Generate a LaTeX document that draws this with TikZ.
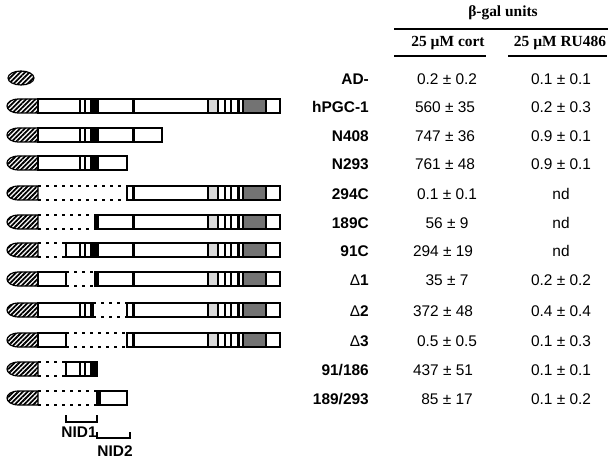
\documentclass[tikz,border=0pt]{standalone}
\usepackage{fontspec}
\setmainfont{Liberation Serif}
\newfontfamily\helv{Liberation Sans}
\usetikzlibrary{patterns.meta}

\begin{document}
\begin{tikzpicture}[x=1bp, y=-1bp,
    every node/.style={font=\helv\fontsize{15.5}{18}\selectfont, inner sep=0pt},
    cname/.style={font=\helv\bfseries\fontsize{15.5}{18}\selectfont, anchor=mid east},
    val/.style={anchor=mid},
    head/.style={font=\bfseries\fontsize{15.5}{18}\selectfont, anchor=mid},
    nid/.style={font=\helv\bfseries\fontsize{15.5}{18}\selectfont, anchor=mid},
    bar/.style={draw, line width=1.5bp, fill=white},
    blk/.style={fill=black},
    tick/.style={line width=1.3bp},
    gap/.style={line width=1.8bp, dash pattern=on 2.5bp off 5.5bp},
    rule/.style={line width=1.7bp},
    adcap/.style={draw, line width=1.2bp, pattern={Lines[angle=45, distance=3.3bp, line width=1.8bp]}},
    lgray/.style={draw, line width=1.3bp, fill=black!15},
    dgray/.style={draw, line width=1.3bp, fill=black!55}
]
\useasboundingbox (0,0) rectangle (612,466);

% Header
\node[head] (units) at (503, 14) {β-gal units};
\node[head] (cort) at (448, 44) {25 µM cort};
\node[head] (ru) at (560, 44) {25 µM RU486};
\draw[rule] (394, 29) -- (608, 29);
\draw[rule] (394, 56) -- (486, 56);
\draw[rule] (508, 56) -- (607, 56);

% Activation domain
\draw[adcap] (21, 78) ellipse [x radius=13bp, y radius=7bp];
\foreach \y in {106,135,163,193,222,250,279,310,340,369,398}
  \draw[adcap] (38,\y-7) -- (19,\y-7) .. controls (3,\y-7) and (3,\y+7) .. (19,\y+7) -- (38,\y+7) -- cycle;

% Deleted parts
\draw[gap] (38, 186) -- (127, 186) (38, 200) -- (127, 200);
\draw[gap] (38, 215) -- (95, 215) (38, 229) -- (95, 229);
\draw[gap] (38, 243) -- (66, 243) (38, 257) -- (66, 257);
\draw[gap] (66, 272) -- (95, 272) (66, 286) -- (95, 286);
\draw[gap] (93, 303) -- (127, 303) (93, 317) -- (127, 317);
\draw[gap] (66, 333) -- (127, 333) (66, 347) -- (127, 347);
\draw[gap] (38, 362) -- (66, 362) (38, 376) -- (66, 376);
\draw[gap] (38, 391) -- (97, 391) (38, 405) -- (97, 405);

% Bars
\draw[bar] (38, 99) rectangle (280, 113);
\draw[bar] (38, 128) rectangle (162, 142);
\draw[bar] (38, 156) rectangle (127, 170);
\draw[bar] (127, 186) rectangle (280, 200);
\draw[bar] (95, 215) rectangle (280, 229);
\draw[bar] (66, 243) rectangle (280, 257);
\draw[bar] (38, 272) rectangle (66, 286);
\draw[bar] (95, 272) rectangle (280, 286);
\draw[bar] (38, 303) rectangle (93, 317);
\draw[bar] (127, 303) rectangle (280, 317);
\draw[bar] (38, 333) rectangle (66, 347);
\draw[bar] (127, 333) rectangle (280, 347);
\draw[bar] (66, 362) rectangle (97, 376);
\draw[bar] (97, 391) rectangle (127, 405);

% N-terminal marks
\foreach \y in {106,135,163,250,310,369}
  \draw[tick] (80,\y-7) -- (80,\y+7) (85,\y-7) -- (85,\y+7);
\foreach \y in {106,135,163,250}
  \fill[blk] (90,\y-7) rectangle (99,\y+7);
\fill[blk] (90, 303) rectangle (93, 317);
\fill[blk] (90, 362) rectangle (97, 376);
\fill[blk] (95, 215) rectangle (99, 229);
\fill[blk] (95, 272) rectangle (99, 286);
\fill[blk] (97, 391) rectangle (101, 405);
\foreach \y in {106,135,193,222,250,279,310,340}
  \fill[blk] (132,\y-7) rectangle (135,\y+7);

% C-terminal marks
\foreach \y in {106,193,222,250,279,310,340} {
  \draw[lgray] (208,\y-7) rectangle (218,\y+7);
  \draw[tick] (225,\y-7) -- (225,\y+7) (231,\y-7) -- (231,\y+7);
  \fill[blk] (237,\y-7) rectangle (240,\y+7);
  \draw[dgray] (243,\y-7) rectangle (266,\y+7);
}

% NID brackets
\draw[rule] (66, 415) -- (66, 422) -- (97, 422) -- (97, 415);
\draw[rule] (97, 432) -- (97, 438) -- (130, 438) -- (130, 432);
\node[nid] (nid1) at (79, 435) {NID1};
\node[nid] (nid2) at (115, 454) {NID2};

% Names
\node[cname] (nAD) at (369, 82) {AD-};
\node[cname] (nFull) at (369, 110) {hPGC-1};
\node[cname] (nN408) at (369, 139) {N408};
\node[cname] (nN293) at (369, 167) {N293};
\node[cname] (n294C) at (369, 197) {294C};
\node[cname] (n189C) at (369, 226) {189C};
\node[cname] (n91C) at (369, 254) {91C};
\node[cname] (nD1) at (369, 283) {{\mdseries Δ}1};
\node[cname] (nD2) at (369, 314) {{\mdseries Δ}2};
\node[cname] (nD3) at (369, 344) {{\mdseries Δ}3};
\node[cname] (n91x) at (369, 373) {91/186};
\node[cname] (n189x) at (369, 402) {189/293};

% Cort column
\node[val] (cAD) at (447, 82) {0.2 ± 0.2};
\node[val] (cFull) at (445, 110) {560 ± 35};
\node[val] (cN408) at (445, 139) {747 ± 36};
\node[val] (cN293) at (445, 167) {761 ± 48};
\node[val] (c294C) at (447, 197) {0.1 ± 0.1};
\node[val] (c189C) at (447, 226) {56 ± 9};
\node[val] (c91C) at (443, 254) {294 ± 19};
\node[val] (cD1) at (447, 283) {35 ± 7};
\node[val] (cD2) at (443, 314) {372 ± 48};
\node[val] (cD3) at (447, 344) {0.5 ± 0.5};
\node[val] (c91x) at (443, 373) {437 ± 51};
\node[val] (c189x) at (447, 402) {85 ± 17};

% RU486 column
\node[val] (rAD) at (561, 82) {0.1 ± 0.1};
\node[val] (rFull) at (561, 110) {0.2 ± 0.3};
\node[val] (rN408) at (561, 139) {0.9 ± 0.1};
\node[val] (rN293) at (561, 167) {0.9 ± 0.1};
\node[val] (r294C) at (561, 197) {nd};
\node[val] (r189C) at (561, 226) {nd};
\node[val] (r91C) at (561, 254) {nd};
\node[val] (rD1) at (561, 283) {0.2 ± 0.2};
\node[val] (rD2) at (561, 314) {0.4 ± 0.4};
\node[val] (rD3) at (561, 344) {0.1 ± 0.3};
\node[val] (r91x) at (561, 373) {0.1 ± 0.1};
\node[val] (r189x) at (561, 402) {0.1 ± 0.2};
\end{tikzpicture}
\end{document}
